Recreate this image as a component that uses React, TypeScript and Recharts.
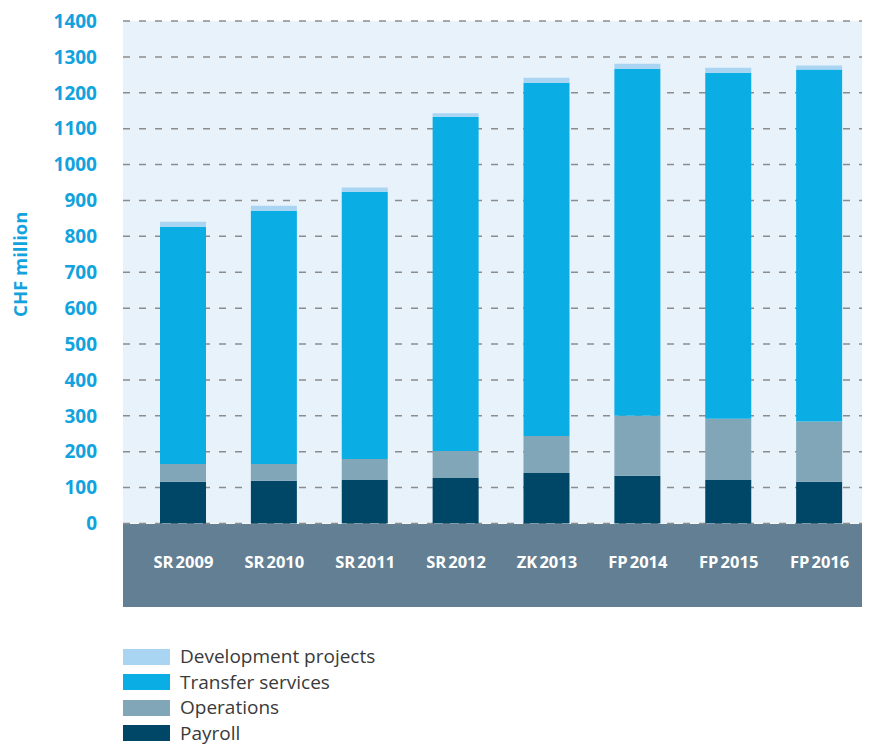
import React from 'react';
import { BarChart, Bar, XAxis, YAxis, CartesianGrid } from 'recharts';

// values (CHF million)
const categories = ['SR\u202F2009', 'SR\u202F2010', 'SR\u202F2011', 'SR\u202F2012', 'ZK\u202F2013', 'FP\u202F2014', 'FP\u202F2015', 'FP\u202F2016'];
const payroll = [116, 119, 121, 127, 141, 133, 121, 116];
const operations = [50, 47, 59, 75, 103, 167, 171, 168];
const transferServices = [661, 705, 744, 931, 984, 967, 964, 981];
const developmentProjects = [14, 14, 12, 10, 14, 14, 14, 11];
const yTicks = [0, 100, 200, 300, 400, 500, 600, 700, 800, 900, 1000, 1100, 1200, 1300, 1400];

const data = categories.map((name, i) => ({
  name,
  payroll: payroll[i],
  operations: operations[i],
  transfer: transferServices[i],
  development: developmentProjects[i],
}));

// stacking order bottom -> top
const series = [
  { key: 'payroll', label: 'Payroll', color: '#004666' },
  { key: 'operations', label: 'Operations', color: '#80A6B8' },
  { key: 'transfer', label: 'Transfer services', color: '#0AAEE5' },
  { key: 'development', label: 'Development projects', color: '#A9D5F3' },
];

const blue = '#12A3DE';
const font = '"Open Sans", "Noto Sans", sans-serif';

const CategoryTick = ({ x, y, payload }: any) => (
  <text
    x={x}
    y={y + 42}
    textAnchor="middle"
    fill="#ffffff"
    fontSize={16.5}
    fontWeight="bold"
    fontFamily={font}
  >
    {payload.value}
  </text>
);

// rotated axis title, centred on the plot height
const YTitle = ({ viewBox }: any) => {
  const cy = viewBox.y + viewBox.height / 2 - 8;
  return (
    <text
      x={11}
      y={cy}
      transform={`rotate(-90, 11, ${cy})`}
      textAnchor="middle"
      dominantBaseline="central"
      fill={blue}
      fontSize={18.5}
      fontWeight="bold"
      fontFamily={font}
    >
      CHF million
    </text>
  );
};

const App = () => {
  return (
    <div style={{ width: 862, fontFamily: font }}>
      <div style={{ position: 'relative', width: 862, height: 599 }}>
        {/* grey band behind the category labels */}
        <div
          style={{
            position: 'absolute',
            left: 115,
            top: 515.5,
            width: 747,
            height: 83,
            background: '#637F93',
          }}
        />
        <div style={{ position: 'relative' }}>
          <BarChart
            width={862}
            height={599}
            data={data}
            margin={{ top: 13, right: 0, left: 0, bottom: 0 }}
            barSize={46}
          >
            <CartesianGrid
              vertical={false}
              fill="#E8F2FB"
              stroke="#8c8c8c"
              strokeWidth={1.5}
              strokeDasharray="7 9"
            />
            <XAxis
              dataKey="name"
              height={83.5}
              axisLine={false}
              tickLine={false}
              tickSize={0}
              interval={0}
              padding={{ left: 15, right: 5 }}
              tick={<CategoryTick />}
            />
            <YAxis
              domain={[0, 1400]}
              ticks={yTicks}
              width={115}
              axisLine={false}
              tickLine={false}
              tickSize={0}
              tickMargin={26}
              tick={{ fill: blue, fontSize: 19, fontWeight: 'bold', fontFamily: font }}
              label={<YTitle />}
            />
            {series.map((s) => (
              <Bar
                key={s.key}
                dataKey={s.key}
                name={s.label}
                stackId="total"
                fill={s.color}
                isAnimationActive={false}
              />
            ))}
          </BarChart>
        </div>
      </div>
      <div style={{ marginTop: 37, paddingLeft: 115 }}>
        {[...series].reverse().map((s) => (
          <div key={s.key} style={{ display: 'flex', alignItems: 'center', height: 25.5 }}>
            <span style={{ display: 'inline-block', width: 47, height: 16, background: s.color }} />
            <span style={{ marginLeft: 10, fontSize: 19, color: '#3a3a3a', lineHeight: '25.5px' }}>{s.label}</span>
          </div>
        ))}
      </div>
    </div>
  );
};

export default App;
